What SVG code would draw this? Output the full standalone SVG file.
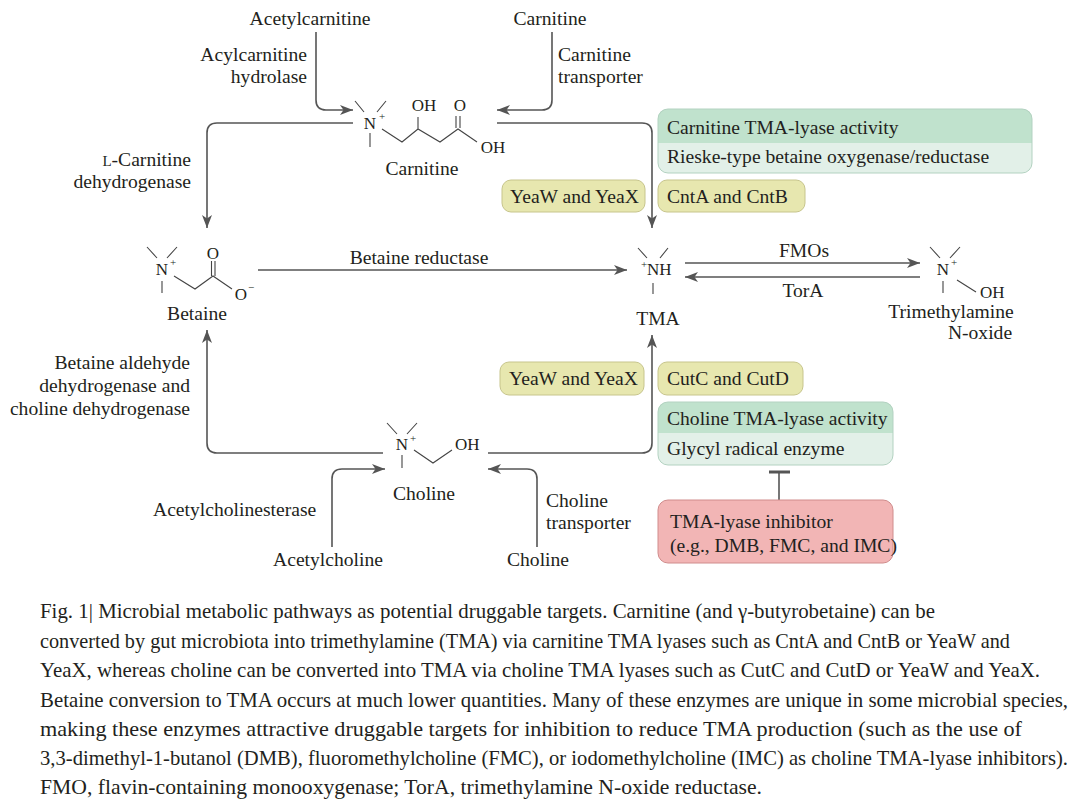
<svg xmlns="http://www.w3.org/2000/svg" width="1080" height="801" viewBox="0 0 1080 801">
<defs>
<style>
text{font-family:"Liberation Serif","Times New Roman",serif;fill:#231f20}
.t{font-size:19.6px}
.a{font-size:17px}
.s{font-size:11px}
.c{font-size:20.6px}
.ln{fill:none;stroke:#555;stroke-width:1.6}
.b{fill:none;stroke:#444;stroke-width:1.1}
.yel{fill:#e7e7af;stroke:#c7c58c;stroke-width:1}
.gb{fill:#e2f0e8}
.gt{fill:#c0e2cd}
.gs{fill:none;stroke:#b3d2c1;stroke-width:1}
.red{fill:#f2b5b5;stroke:#d08c8c;stroke-width:1}
</style>
<marker id="ar" markerUnits="userSpaceOnUse" markerWidth="14" markerHeight="10" refX="13" refY="5" orient="auto">
<path d="M0,0 L13,5 L0,10 L3.5,5 Z" fill="#555"/>
</marker>
</defs>
<rect width="1080" height="801" fill="#fff"/>

<g id="connectors">
<path class="ln" d="M316,32 V100 Q316,110 326,110 H353" marker-end="url(#ar)"/>
<path class="ln" d="M552,32 V100 Q552,110 542,110 H497" marker-end="url(#ar)"/>
<path class="ln" d="M353,123 H217 Q207,123 207,133 V228" marker-end="url(#ar)"/>
<path class="ln" d="M497,123 H642 Q652,123 652,133 V228" marker-end="url(#ar)"/>
<path class="ln" d="M258,270 H627" marker-end="url(#ar)"/>
<path class="ln" d="M685,263 H920" marker-end="url(#ar)"/>
<path class="ln" d="M920,277 H685" marker-end="url(#ar)"/>
<path class="ln" d="M383,453 H217 Q207,453 207,443 V330" marker-end="url(#ar)"/>
<path class="ln" d="M488,453 H642 Q652,453 652,443 V335" marker-end="url(#ar)"/>
<path class="ln" d="M332,547 V479 Q332,469 342,469 H385" marker-end="url(#ar)"/>
<path class="ln" d="M537,547 V479 Q537,469 527,469 H488" marker-end="url(#ar)"/>
<path class="ln" d="M779,500 V472"/>
<path d="M769,472 H790" stroke="#555" stroke-width="3" fill="none"/>
</g>

<g id="labels">
<text class="t" x="310" y="25" text-anchor="middle">Acetylcarnitine</text>
<text class="t" x="550" y="25" text-anchor="middle">Carnitine</text>
<text class="t" x="307" y="61" text-anchor="end">Acylcarnitine</text>
<text class="t" x="307" y="83" text-anchor="end">hydrolase</text>
<text class="t" x="558" y="61">Carnitine</text>
<text class="t" x="558" y="83">transporter</text>
<text class="t" x="191" y="166" text-anchor="end"><tspan font-size="15px">L</tspan>-Carnitine</text>
<text class="t" x="191" y="188" text-anchor="end">dehydrogenase</text>
<text class="t" x="419" y="264" text-anchor="middle">Betaine reductase</text>
<text class="t" x="804" y="257" text-anchor="middle">FMOs</text>
<text class="t" x="803" y="297" text-anchor="middle">TorA</text>
<text class="t" x="190" y="369" text-anchor="end">Betaine aldehyde</text>
<text class="t" x="190" y="392" text-anchor="end">dehydrogenase and</text>
<text class="t" x="190" y="415" text-anchor="end">choline dehydrogenase</text>
<text class="t" x="153" y="516">Acetylcholinesterase</text>
<text class="t" x="328" y="566" text-anchor="middle">Acetylcholine</text>
<text class="t" x="546" y="507">Choline</text>
<text class="t" x="546" y="529">transporter</text>
<text class="t" x="538" y="566" text-anchor="middle">Choline</text>
</g>

<g id="carnitine">
<path class="b" d="M355,101 L364,112 M386,101 L377,112 M370,133 V147 M382,129 L402,142 L418,129 L440,142 L458,129 L477,142 M418,129 V117 M456,128 V116 M460,128 V116"/>
<text class="a" x="370" y="129" text-anchor="middle">N</text>
<text class="s" x="379" y="120">+</text>
<text class="a" x="424" y="111" text-anchor="middle">OH</text>
<text class="a" x="460" y="111" text-anchor="middle">O</text>
<text class="a" x="493" y="153" text-anchor="middle">OH</text>
<text class="t" x="422" y="175" text-anchor="middle">Carnitine</text>
</g>

<g id="betaine">
<path class="b" d="M147,247 L157,258 M177,247 L167,258 M162,281 V293 M174,276 L195,289 L213,276 L232,289 M211.5,276 V261 M215,276 V261"/>
<text class="a" x="162" y="275" text-anchor="middle">N</text>
<text class="s" x="170" y="266">+</text>
<text class="a" x="213" y="259" text-anchor="middle">O</text>
<text class="a" x="241" y="300" text-anchor="middle">O</text>
<text class="s" x="248" y="291">−</text>
<text class="t" x="197" y="320" text-anchor="middle">Betaine</text>
</g>

<g id="tma">
<path class="b" d="M638,248 L647,258 M668,248 L660,258 M653,283 V294"/>
<text class="s" x="641" y="268">+</text>
<text class="a" x="647" y="275">NH</text>
<text class="t" x="658" y="325" text-anchor="middle">TMA</text>
</g>

<g id="tmao">
<path class="b" d="M930,247 L940,258 M960,247 L950,258 M943,281 V293 M957,280 L976,292"/>
<text class="a" x="943" y="275" text-anchor="middle">N</text>
<text class="s" x="951" y="266">+</text>
<text class="a" x="980" y="298">OH</text>
<text class="t" x="951" y="318" text-anchor="middle">Trimethylamine</text>
<text class="t" x="980" y="339" text-anchor="middle">N-oxide</text>
</g>

<g id="choline">
<path class="b" d="M387,423 L397,434 M417,423 L407,434 M402,455 V468 M414,450 L433,463 L452,450"/>
<text class="a" x="402" y="450" text-anchor="middle">N</text>
<text class="s" x="410" y="442">+</text>
<text class="a" x="455" y="450">OH</text>
<text class="t" x="424" y="500" text-anchor="middle">Choline</text>
</g>

<g id="carnitine-lyase-box">
<rect class="gb" x="658" y="109" width="374" height="64" rx="10"/>
<path class="gt" d="M658,143 V119 Q658,109 668,109 H1022 Q1032,109 1032,119 V143 Z"/>
<rect class="gs" x="658" y="109" width="374" height="64" rx="10"/>
<text class="t" x="667" y="134">Carnitine TMA-lyase activity</text>
<text class="t" x="667" y="163">Rieske-type betaine oxygenase/reductase</text>
</g>

<g id="yeaw-top">
<rect class="yel" x="502" y="180" width="143" height="32" rx="9"/>
<text class="t" x="510" y="203">YeaW and YeaX</text>
</g>
<g id="cnta">
<rect class="yel" x="658" y="180" width="147" height="32" rx="9"/>
<text class="t" x="667" y="203">CntA and CntB</text>
</g>
<g id="yeaw-bottom">
<rect class="yel" x="500" y="362" width="144" height="33" rx="9"/>
<text class="t" x="509" y="385">YeaW and YeaX</text>
</g>
<g id="cutc">
<rect class="yel" x="658" y="362" width="145" height="33" rx="9"/>
<text class="t" x="667" y="385">CutC and CutD</text>
</g>

<g id="choline-lyase-box">
<rect class="gb" x="658" y="402" width="235" height="63" rx="10"/>
<path class="gt" d="M658,433 V412 Q658,402 668,402 H883 Q893,402 893,412 V433 Z"/>
<rect class="gs" x="658" y="402" width="235" height="63" rx="10"/>
<text class="t" x="667" y="425">Choline TMA-lyase activity</text>
<text class="t" x="667" y="455">Glycyl radical enzyme</text>
</g>

<g id="inhibitor">
<rect class="red" x="658" y="500" width="235" height="63" rx="10"/>
<text class="t" x="670" y="528">TMA-lyase inhibitor</text>
<text class="t" x="670" y="552">(e.g., DMB, FMC, and IMC)</text>
</g>

<g id="caption">
<text class="c" x="40" y="618" textLength="895" lengthAdjust="spacingAndGlyphs">Fig. 1| Microbial metabolic pathways as potential druggable targets.  Carnitine (and γ-butyrobetaine) can be</text>
<text class="c" x="40" y="648" textLength="970" lengthAdjust="spacingAndGlyphs">converted by gut microbiota into trimethylamine (TMA) via carnitine TMA lyases such as CntA and CntB or YeaW and</text>
<text class="c" x="40" y="677" textLength="1000" lengthAdjust="spacingAndGlyphs">YeaX, whereas choline can be converted into TMA via choline TMA lyases such as CutC and CutD or YeaW and YeaX.</text>
<text class="c" x="40" y="707" textLength="1028" lengthAdjust="spacingAndGlyphs">Betaine conversion to TMA occurs at much lower quantities. Many of these enzymes are unique in some microbial species,</text>
<text class="c" x="40" y="736" textLength="982" lengthAdjust="spacingAndGlyphs">making these enzymes attractive druggable targets for inhibition to reduce TMA production (such as the use of</text>
<text class="c" x="40" y="765" textLength="1028" lengthAdjust="spacingAndGlyphs">3,3-dimethyl-1-butanol (DMB), fluoromethylcholine (FMC), or iodomethylcholine (IMC) as choline TMA-lyase inhibitors).</text>
<text class="c" x="40" y="794" textLength="722" lengthAdjust="spacingAndGlyphs">FMO, flavin-containing monooxygenase; TorA, trimethylamine N-oxide reductase.</text>
</g>
</svg>
